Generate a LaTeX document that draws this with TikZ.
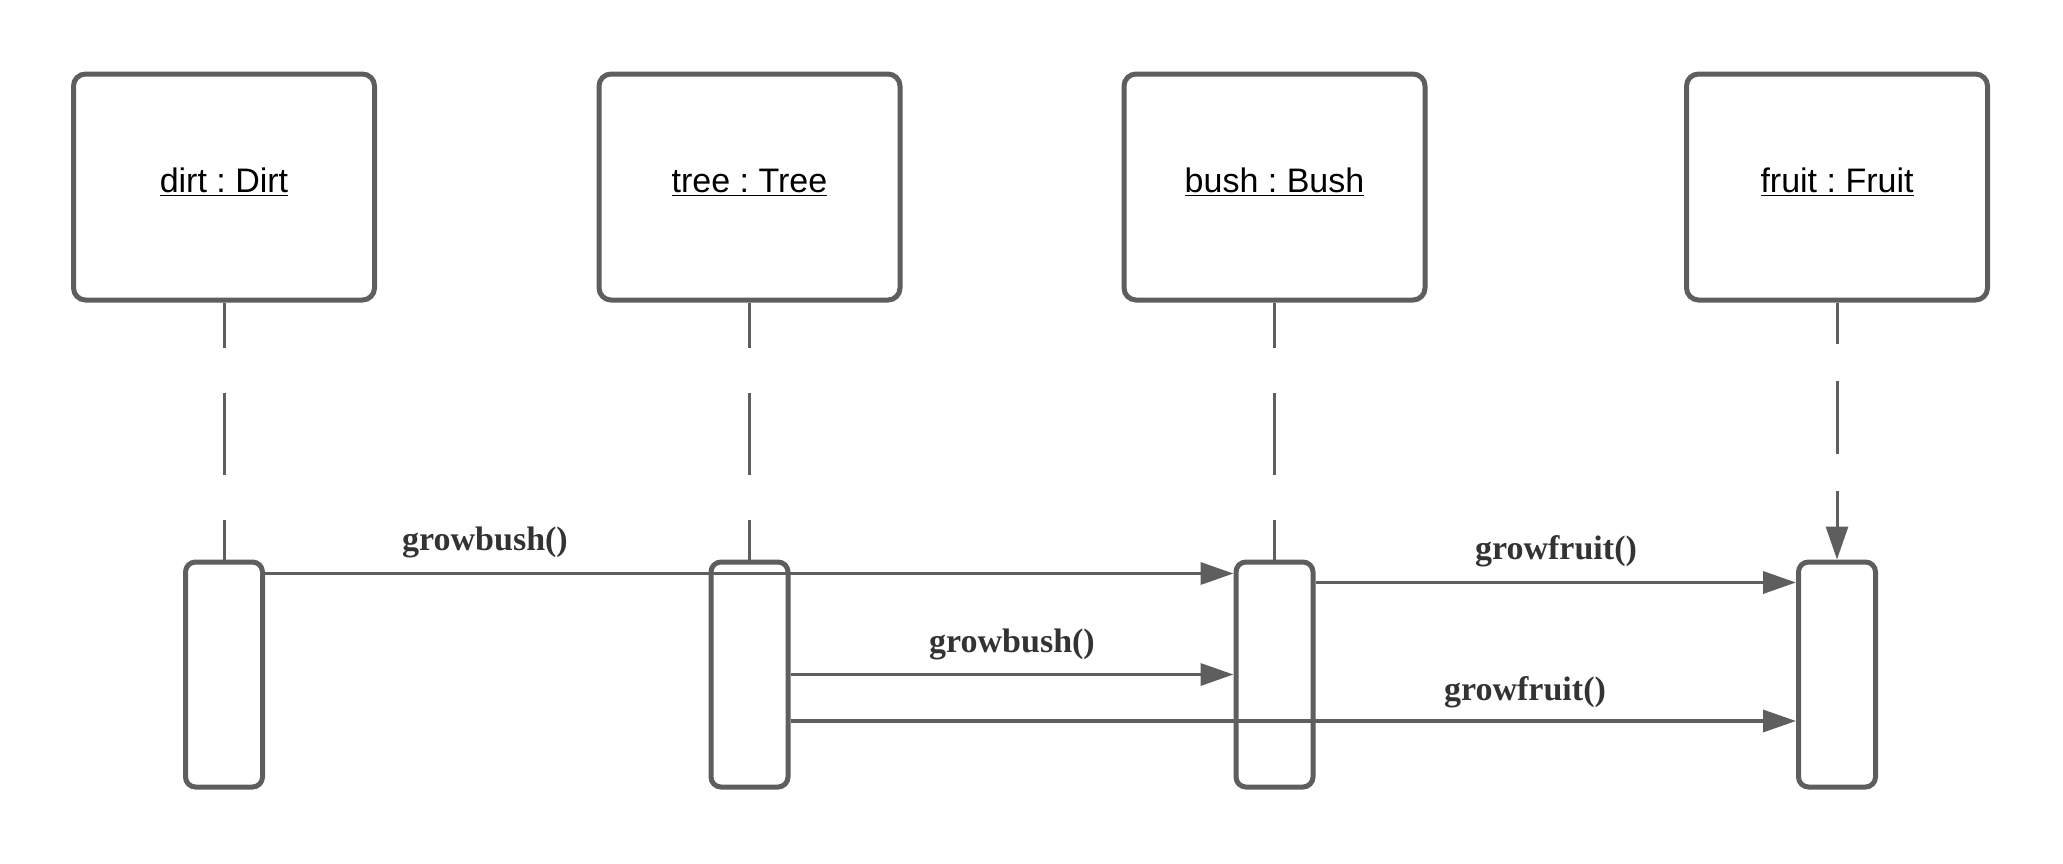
\documentclass[tikz,border=0pt]{standalone}
\usepackage{fontspec}
\setmainfont{Liberation Serif}
\newfontfamily\hdrfont{Liberation Sans}
\usetikzlibrary{arrows.meta}
\definecolor{ln}{HTML}{5E5E5E}
\definecolor{lbl}{HTML}{333333}
\frenchspacing
\begin{document}
\begin{tikzpicture}[x=0.5pt,y=-0.5pt,
  hdr/.style={draw=ln,line width=2.5pt,rounded corners=6pt,minimum width=150.5pt,minimum height=113pt,inner sep=0pt},
  hdrtext/.style={font=\hdrfont\fontsize{17}{20}\selectfont,text=black},
  act/.style={draw=ln,line width=2.5pt,rounded corners=5pt,minimum width=38.5pt,minimum height=112.5pt,inner sep=0pt},
  life/.style={draw=ln,line width=1.5pt,dash pattern=on 22.5pt off 22.5pt on 41pt off 22.5pt},
  msg/.style={draw=ln,line width=1.75pt,-{Triangle[length=16.5pt,width=11pt]}},
  lab/.style={font=\bfseries\fontsize{17}{20}\selectfont,text=lbl,inner sep=0pt}]
\useasboundingbox (0,0) rectangle (2063,863);
\node[hdr] (h1) at (224,187) {};
\node[hdr] (h2) at (749.5,187) {};
\node[hdr] (h3) at (1274.5,187) {};
\node[hdr] (h4) at (1837,187) {};
\node[hdrtext] (t1) at (224,182.5) {\underline{dirt : Dirt}};
\node[hdrtext] (t2) at (749.5,182.5) {\underline{tree : Tree}};
\node[hdrtext] (t3) at (1274.5,182.5) {\underline{bush : Bush}};
\node[hdrtext] (t4) at (1837,182.5) {\underline{fruit : Fruit}};
\node[act] (a1) at (224,674.5) {};
\node[act] (a2) at (749.5,674.5) {};
\node[act] (a3) at (1274.5,674.5) {};
\node[act] (a4) at (1837,674.5) {};
\draw[life] (h1.south) -- (a1.north);
\draw[life] (h2.south) -- (a2.north);
\draw[life] (h3.south) -- (a3.north);
\draw[draw=ln,line width=1.5pt,dash pattern=on 20.5pt off 18.5pt on 36.5pt off 18.5pt,-{Triangle[length=16.5pt,width=11pt]}] (h4.south) -- (a4.north);
\draw[msg] ([yshift=-7pt]a1.north east) -- ([yshift=-7pt]a3.north west);
\draw[msg] ([yshift=-11.5pt]a3.north east) -- ([yshift=-11.5pt]a4.north west);
\draw[msg] (a2.east) -- (a3.west);
\draw[msg] ([yshift=-23.25pt]a2.east) -- ([yshift=-23.25pt]a4.west);
\node[lab] (l1) at (485,542) {growbush()};
\node[lab] (l2) at (1556,551) {growfruit()};
\node[lab] (l3) at (1012,644) {growbush()};
\node[lab] (l4) at (1525,692) {growfruit()};
\end{tikzpicture}
\end{document}
